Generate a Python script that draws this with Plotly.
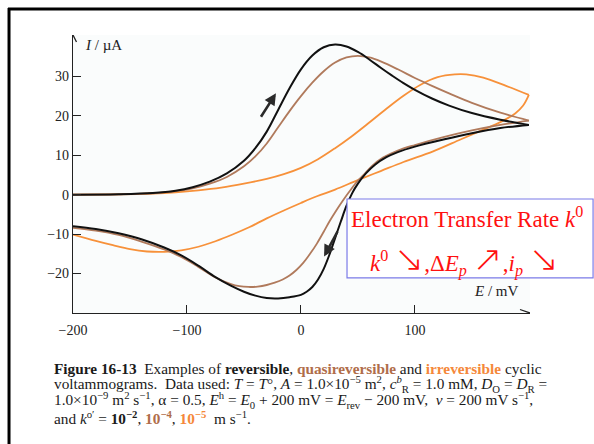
import plotly.graph_objects as go

# ---------------- data ----------------
# Reversible (k0 = 1e-2), black
rev_fwd_E = [-200, -160, -130, -110, -95, -80, -65, -50, -40, -30, -20, -10, 0, 10, 20, 30, 40, 50, 60, 70, 80, 90, 100, 115, 130, 150, 175, 200]
rev_fwd_I = [0, 0.1, 0.4, 1.0, 1.9, 3.3, 5.4, 8.6, 11.8, 16.0, 21.5, 27.0, 31.8, 35.3, 37.4, 38.1, 37.6, 36.2, 34.3, 32.2, 30.2, 28.3, 26.6, 24.4, 22.6, 20.7, 19.0, 17.7]
rev_bwd_E = [200, 175, 150, 125, 100, 85, 75, 65, 57, 50, 45, 40, 35, 30, 25, 20, 15, 10, 5, 0, -10, -20, -30, -40, -50, -62, -75, -90, -105, -120, -140, -160, -180, -200]
rev_bwd_I = [17.7, 16.9, 15.6, 14.0, 12.2, 10.8, 9.5, 7.6, 5.4, 2.8, 0.4, -2.8, -6.8, -11.0, -15.2, -18.8, -21.5, -23.4, -24.6, -25.4, -26.0, -26.3, -26.2, -25.6, -24.6, -23.0, -20.9, -18.0, -15.4, -13.4, -11.3, -9.8, -8.7, -8.0]

# Quasireversible (k0 = 1e-4), brown
quasi_fwd_E = [-200, -160, -130, -110, -95, -80, -65, -50, -40, -30, -20, -10, 0, 10, 20, 30, 40, 50, 60, 70, 85, 100, 115, 130, 150, 175, 200]
quasi_fwd_I = [0, 0.1, 0.35, 0.9, 1.6, 2.8, 4.5, 7.2, 9.7, 13.0, 17.1, 21.2, 25.0, 28.4, 31.3, 33.5, 34.8, 35.2, 34.8, 33.8, 31.8, 29.6, 27.6, 25.7, 23.3, 20.8, 18.8]
quasi_bwd_E = [200, 175, 150, 125, 100, 85, 72, 62, 55, 50, 43, 37, 31, 25, 20, 14, 8, 2, -4, -10, -16, -23, -30, -38, -46, -54, -62, -75, -90, -105, -120, -140, -160, -180, -200]
quasi_bwd_I = [18.8, 17.7, 16.3, 14.6, 12.6, 11.2, 9.4, 7.2, 5.0, 3.6, 1.0, -1.4, -4.0, -6.8, -9.4, -12.4, -15.0, -17.3, -19.1, -20.5, -21.5, -22.3, -22.9, -23.3, -23.4, -23.2, -22.6, -21.0, -18.3, -15.8, -13.9, -11.9, -10.2, -9.1, -8.4]

# Irreversible (k0 = 1e-5), orange
irr_fwd_E = [-200, -160, -130, -110, -90, -70, -50, -30, -15, 0, 15, 30, 45, 60, 75, 90, 105, 120, 135, 145, 160, 180, 200]
irr_fwd_I = [0, 0.1, 0.3, 0.6, 1.1, 1.8, 2.8, 4.0, 5.2, 6.8, 9.0, 11.8, 14.9, 18.3, 21.8, 25.1, 27.9, 29.8, 30.5, 30.5, 29.7, 27.6, 25.3]
irr_bwd_E = [200, 195, 188, 175, 160, 140, 116, 90, 70, 50, 30, 14, 0, -15, -30, -45, -60, -75, -90, -105, -120, -135, -150, -165, -180, -200]
irr_bwd_I = [25.3, 22.6, 20.6, 18.4, 16.5, 14.0, 11.0, 8.3, 6.0, 3.7, 1.3, -0.4, -2.1, -4.0, -6.0, -8.2, -10.1, -11.8, -13.2, -14.1, -14.5, -14.4, -13.8, -12.8, -11.7, -10.1]

x_tickvals = [-200, -100, 0, 100]
y_tickvals = [-20, -10, 0, 10, 20, 30]
x_range = [-200, 201]
y_range = [-30, 40.5]

# sweep-direction arrows (tail E, tail I, head E, head I)
fwd_arrow = [-35.9, 19.4, -21.9, 25.7]
bwd_arrow = [32.8, -8.95, 20.3, -15.7]

BLACK = "#111111"
BROWN = "#b07a5c"
ORANGE = "#f7913a"
CAP_BROWN = "#b06d4a"
CAP_ORANGE = "#f5883a"
SERIF = "Liberation Serif, Times New Roman, DejaVu Serif, serif"

fig = go.Figure()

series = [
    (irr_fwd_E, irr_fwd_I, irr_bwd_E, irr_bwd_I, ORANGE, 1.8),
    (quasi_fwd_E, quasi_fwd_I, quasi_bwd_E, quasi_bwd_I, BROWN, 1.8),
    (rev_fwd_E, rev_fwd_I, rev_bwd_E, rev_bwd_I, BLACK, 2.0),
]
for fe, fi, be, bi, col, w in series:
    for xs, ys in ((fe, fi), (be, bi)):
        fig.add_trace(go.Scatter(x=xs, y=ys, mode="lines",
                                 line=dict(color=col, width=w, shape="spline", smoothing=1.0),
                                 hoverinfo="skip", showlegend=False))

axis_common = dict(showgrid=False, zeroline=False, showline=True, linecolor="#222222", linewidth=1.3,
                   ticks="inside", ticklen=8, tickwidth=1.3, tickcolor="#222222",
                   tickfont=dict(family=SERIF, size=14, color="#222222"))
fig.update_xaxes(range=x_range, tickvals=x_tickvals, ticklabelstandoff=4, **axis_common)
fig.update_yaxes(range=y_range, tickvals=y_tickvals, ticklabelstandoff=0, **axis_common)

shapes = [
    # outer frame (top & left)
    dict(type="line", xref="paper", yref="paper", x0=-0.1422, x1=1.15, y0=1.0935, y1=1.0935,
         line=dict(color="black", width=3)),
    dict(type="line", xref="paper", yref="paper", x0=-0.1400, x1=-0.1400, y0=1.0971, y1=-0.5,
         line=dict(color="black", width=3)),
    # axis arrowheads
    dict(type="path", xref="x", yref="y", xsizemode="pixel", ysizemode="pixel",
         xanchor=x_range[1], yanchor=y_range[0], path="M -10,3.5 L 0,0 L -10,-3.5",
         line=dict(color="#222222", width=1.3)),
    dict(type="path", xref="x", yref="y", xsizemode="pixel", ysizemode="pixel",
         xanchor=x_range[0], yanchor=y_range[1], path="M -3.5,-7 L 0,0 L 3.5,-7",
         line=dict(color="#222222", width=1.3)),
    # info box
    dict(type="rect", xref="paper", yref="paper", x0=0.5996, x1=1.138, y0=0.126, y1=0.410,
         line=dict(color="#7b7be8", width=1.2), fillcolor="white", layer="above"),
]

ARW = "<span style='font-family:DejaVu Sans;font-size:36px;font-weight:200'>{}</span>"
annotations = [
    dict(xref="paper", yref="paper", x=0.0219, y=0.964, xanchor="left", yanchor="middle",
         text="<i>I</i> / µA", showarrow=False, font=dict(family=SERIF, size=15, color="#222222")),
    dict(xref="paper", yref="paper", x=0.872, y=0.079, xanchor="left", yanchor="middle",
         text="<i>E</i> / mV", showarrow=False, font=dict(family=SERIF, size=15, color="#222222")),
    dict(xref="paper", yref="paper", x=0.604, y=0.345, xanchor="left", yanchor="middle",
         text="Electron Transfer Rate <i>k</i><sup>0</sup>", showarrow=False,
         font=dict(family=SERIF, size=23, color="#ff1010")),
    dict(xref="paper", yref="paper", x=0.6455, y=0.196, xanchor="left", yanchor="middle",
         text="<i>k</i><sup>0</sup> " + ARW.format("↘") + ",Δ<i>E</i><sub><i>p</i></sub> " + ARW.format("↗")
              + ",<i>i</i><sub><i>p</i></sub> " + ARW.format("↘"),
         showarrow=False, font=dict(family=SERIF, size=23, color="#ff1010")),
]

# sweep arrows
for tE, tI, hE, hI in (fwd_arrow, bwd_arrow):
    annotations.append(dict(x=hE, y=hI, ax=tE, ay=tI, xref="x", yref="y", axref="x", ayref="y",
                            text="", showarrow=True, arrowhead=2, arrowsize=0.9, arrowwidth=2.6,
                            arrowcolor="#2a2a2a"))

cap_lines = [
    "<b>Figure 16-13</b>\u00a0\u00a0Examples of <b>reversible</b>, "
    f"<span style='color:{CAP_BROWN}'><b>quasireversible</b></span> and "
    f"<span style='color:{CAP_ORANGE}'><b>irreversible</b></span> cyclic",
    "voltammograms.\u00a0 Data used: <i>T</i> = <i>T</i>°, <i>A</i> = 1.0×10<sup>−5</sup> m<sup>2</sup>, "
    "<i>c</i><sup><i>b</i></sup><sub>R</sub> = 1.0 mM, <i>D</i><sub>O</sub> = <i>D</i><sub>R</sub> =",
    "1.0×10<sup>−9</sup> m<sup>2</sup> s<sup>−1</sup>, α = 0.5, <i>E</i><sup>h</sup> = <i>E</i><sub>0</sub> + 200 mV = "
    "<i>E</i><sub>rev</sub> − 200 mV,\u00a0 <i>v</i> = 200 mV s<sup>−1</sup>,",
    "and <i>k</i><sup>o′</sup> = <b>10<sup>−2</sup></b>, "
    f"<span style='color:{CAP_BROWN}'><b>10<sup>−4</sup></b></span>, "
    f"<span style='color:{CAP_ORANGE}'><b>10<sup>−5</sup></b></span>\u00a0 m s<sup>−1</sup>.",
]
cap_y = [-0.198, -0.256, -0.314, -0.375]
for t, yy in zip(cap_lines, cap_y):
    annotations.append(dict(xref="paper", yref="paper", x=-0.0449, y=yy, xanchor="left", yanchor="middle",
                            text=t, showarrow=False, align="left",
                            font=dict(family=SERIF, size=15.3, color="#1a1a1a")))

fig.update_layout(
    width=594, height=444,
    margin=dict(l=73, r=64, t=35, b=131),
    paper_bgcolor="white", plot_bgcolor="#fafcfc",
    showlegend=False,
    shapes=shapes, annotations=annotations,
)

fig.write_html("out.html", config={"displayModeBar": False})
